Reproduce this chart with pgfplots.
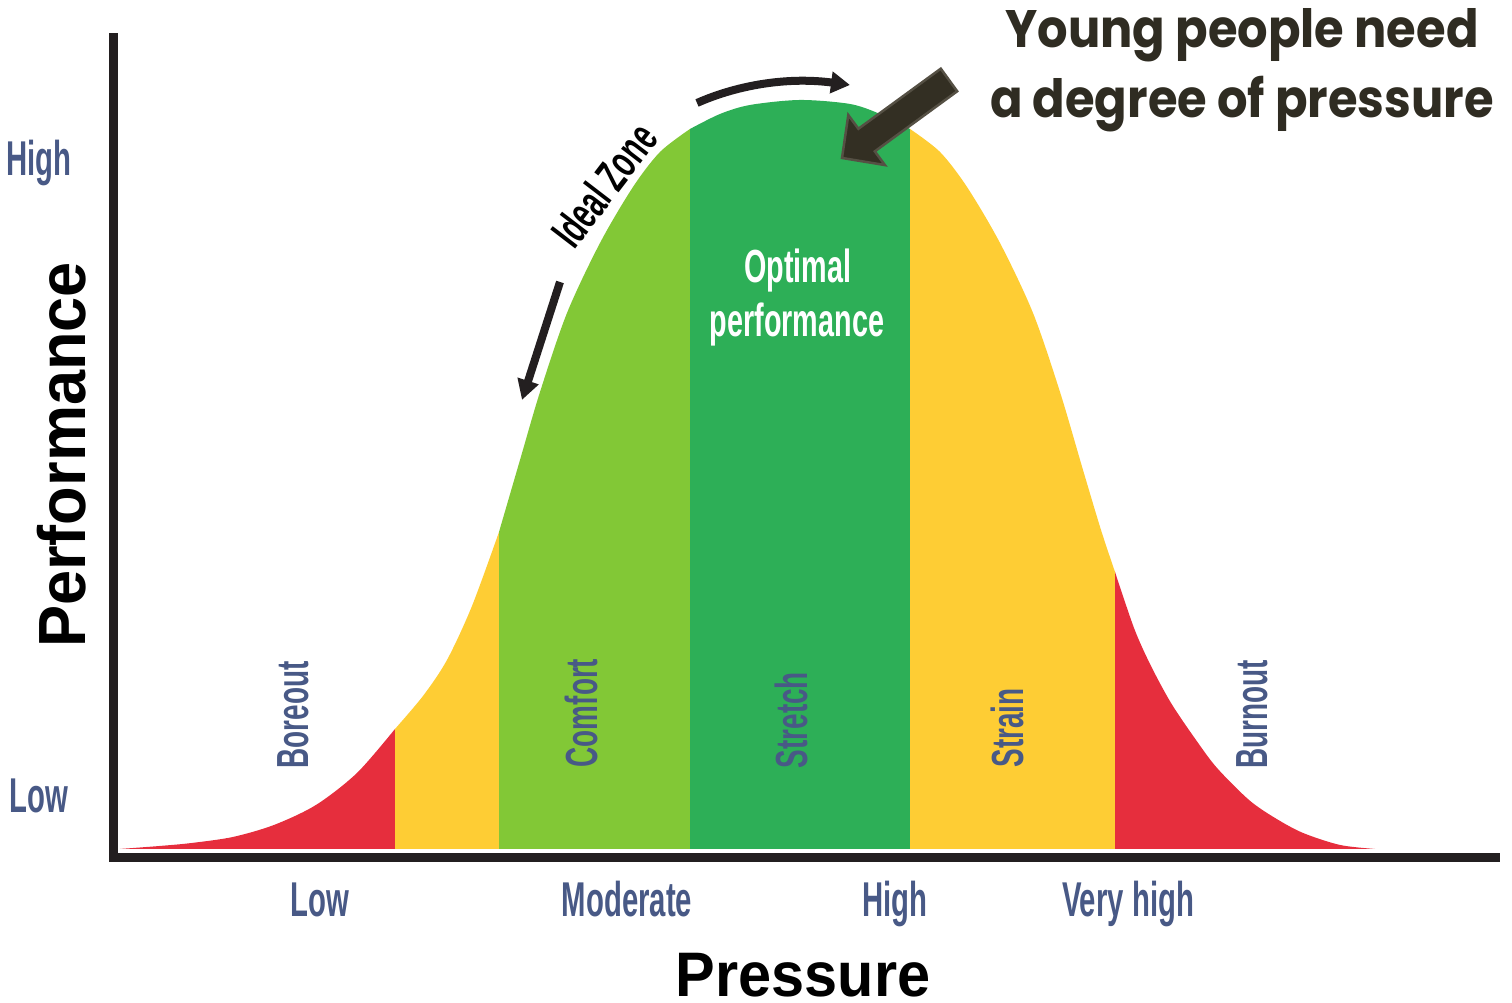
\documentclass[border=0pt]{standalone}
\usepackage{fontspec}
\setmainfont{Liberation Sans}
\newfontfamily\condfont[FakeStretch=0.6]{Liberation Sans}
\newfontfamily\zonefontfam[FakeStretch=0.62]{Liberation Sans}
\newfontfamily\labfont[FakeStretch=0.945]{Liberation Sans}
\newfontfamily\titlefont[FakeStretch=0.91]{Poppins}
\usepackage{pgfplots}
\pgfplotsset{compat=1.18}
\usepgfplotslibrary{fillbetween}
\usetikzlibrary{arrows.meta}
\definecolor{cred}{RGB}{230,46,61}
\definecolor{cyellow}{RGB}{254,205,52}
\definecolor{clgreen}{RGB}{130,200,54}
\definecolor{cdgreen}{RGB}{45,175,87}
\definecolor{axisblack}{RGB}{35,31,32}
\definecolor{tickblue}{RGB}{72,89,134}
\definecolor{titlecol}{RGB}{47,44,34}
\definecolor{arrowfill}{RGB}{51,47,35}
\definecolor{arrowedge}{RGB}{85,80,68}
\newcommand\tickfont{\condfont\bfseries\fontsize{13.9}{16}\selectfont}
\newcommand\zonefont{\zonefontfam\bfseries\fontsize{12.8}{15}\selectfont}
\newcommand\optfont{\zonefontfam\bfseries\fontsize{13.2}{15.6}\selectfont}
\begin{document}
\begin{tikzpicture}
\begin{axis}[
  scale only axis, width=13.81cm, height=8.2cm,
  xmin=114, xmax=1495, ymin=0, ymax=820,
  axis x line=bottom, axis y line=left,
  axis line style={-, line width=0.9mm, draw=axisblack, line cap=rect},
  xtick={320,627,895,1128}, xticklabels={Low,Moderate,High,Very high},
  ytick={700,63}, yticklabels={High,Low},
  major tick length=0pt, tick style={draw=none},
  xticklabel style={anchor=base, yshift=-5.9mm, inner sep=0pt, font=\tickfont, text=tickblue},
  yticklabel style={anchor=base, xshift=-7.5mm, yshift=-1.75mm, inner sep=0pt, font=\tickfont, text=tickblue},
  xlabel={Pressure}, ylabel={Performance},
  xlabel style={at={(axis description cs:0.4989,-0.1695)}, anchor=base, inner sep=0pt, font=\labfont\bfseries\fontsize{17.9}{20}\selectfont, text=black},
  ylabel style={at={(axis description cs:-0.021,0.4915)}, rotate=0, anchor=base, inner sep=0pt, font=\labfont\bfseries\fontsize{19}{22}\selectfont, text=black},
  clip=false,
]
% invisible frame giving the picture its size
\path (axis cs:0,-145) rectangle (axis cs:1512,858);

% curve, one piece per zone
\addplot[name path=s1, draw=none, smooth] coordinates {
 (120,9) (160,12) (192,15) (233,21) (274,33) (316,53) (357,85) (395,129)};
\addplot[name path=b1, draw=none] coordinates {(120,9) (395,9)};
\addplot[fill=cred, draw=none] fill between[of=s1 and b1];

\addplot[name path=s2, draw=none, smooth] coordinates {
 (395,129) (423,162) (447,198) (472,252) (499,326)};
\addplot[name path=b2, draw=none] coordinates {(395,9) (499,9)};
\addplot[fill=cyellow, draw=none] fill between[of=s2 and b2];

\addplot[name path=s3, draw=none, smooth] coordinates {
 (499,326) (520,398) (540,466) (567,545) (600,615) (633,671) (660,706) (690,729)};
\addplot[name path=b3, draw=none] coordinates {(499,9) (690,9)};
\addplot[fill=clgreen, draw=none] fill between[of=s3 and b3];

\addplot[name path=s4, draw=none, smooth] coordinates {
 (690,729) (720,744) (750,753) (800,758) (850,754) (880,744) (910,729)};
\addplot[name path=b4, draw=none] coordinates {(690,9) (910,9)};
\addplot[fill=cdgreen, draw=none] fill between[of=s4 and b4];

\addplot[name path=s5, draw=none, smooth] coordinates {
 (910,729) (940,706) (967,671) (1000,615) (1033,545) (1060,466) (1083,388) (1101,328) (1115,286)};
\addplot[name path=b5, draw=none] coordinates {(910,9) (1115,9)};
\addplot[fill=cyellow, draw=none] fill between[of=s5 and b5];

\addplot[name path=s6, draw=none, smooth] coordinates {
 (1115,286) (1134,230) (1150,194) (1171,155) (1196,118) (1217,90) (1249,58) (1275,40) (1303,25) (1340,13) (1375,9)};
\addplot[name path=b6, draw=none] coordinates {(1115,9) (1375,9)};
\addplot[fill=cred, draw=none] fill between[of=s6 and b6];

% zone labels
\node[rotate=90, anchor=base west, inner sep=0pt, font=\zonefont, text=tickblue] at (axis cs:308,89) {Boreout};
\node[rotate=90, anchor=base west, inner sep=0pt, font=\zonefont, text=tickblue] at (axis cs:597,90) {Comfort};
\node[rotate=90, anchor=base west, inner sep=0pt, font=\zonefont, text=tickblue] at (axis cs:807,89) {Stretch};
\node[rotate=90, anchor=base west, inner sep=0pt, font=\zonefont, text=tickblue] at (axis cs:1023,90) {Strain};
\node[rotate=90, anchor=base west, inner sep=0pt, font=\zonefont, text=tickblue] at (axis cs:1267,89) {Burnout};

\node[anchor=base, inner sep=0pt, font=\optfont, text=white] at (axis cs:798,575) {Optimal};
\node[anchor=base, inner sep=0pt, font=\optfont, text=white] at (axis cs:797,521) {performance};

\node[rotate=52.5, inner sep=0pt, font=\zonefontfam\bfseries\fontsize{13}{15}\selectfont, text=black] at (axis cs:604,673) {Ideal Zone};

% ideal zone arrows
\draw[draw=axisblack, line width=0.8mm, -{Triangle[length=1.9mm, width=2.1mm]}]
  (axis cs:697,755) .. controls (axis cs:740,774) and (axis cs:790,781) .. (axis cs:850,773);
\draw[draw=axisblack, line width=0.8mm, -{Triangle[length=2.0mm, width=2.1mm]}]
  (axis cs:560,576) -- (axis cs:522,458);

% big arrow
\filldraw[fill=arrowfill, draw=arrowedge, line width=0.25mm, line join=miter]
  (axis cs:940.8,789.3) -- (axis cs:957.2,766.7) -- (axis cs:874.8,706.6)
  -- (axis cs:884.9,692.9) -- (axis cs:842,700) -- (axis cs:848.3,742.9)
  -- (axis cs:858.4,729.2) -- cycle;

% title
\node[anchor=base, inner sep=0pt, font=\titlefont\bfseries\fontsize{15}{18}\selectfont, text=titlecol] at (axis cs:1242,810) {Young people need};
\node[anchor=base, inner sep=0pt, font=\titlefont\bfseries\fontsize{15}{18}\selectfont, text=titlecol] at (axis cs:1242,740) {a degree of pressure};
\end{axis}
\end{tikzpicture}
\end{document}
